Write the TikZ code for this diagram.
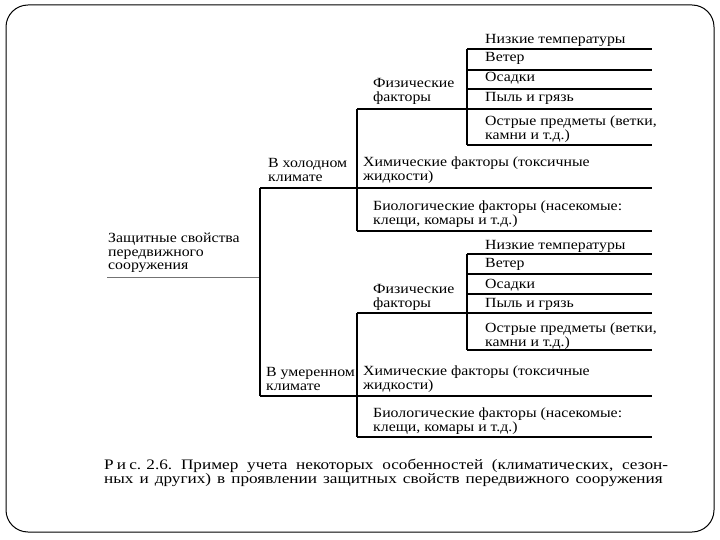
\documentclass[tikz,border=0pt]{standalone}
\usepackage{fontspec}
\usepackage{graphicx}
\setmainfont[FakeStretch=1.13]{Liberation Serif}
\frenchspacing
\newcommand\mylines[1]{\vtop{\baselineskip=14pt\lineskiplimit=-10pt\halign{##\hfil\cr#1\crcr}}}
\begin{document}
\begin{tikzpicture}[x=1pt,y=-1pt,
  txt/.style={anchor=base west,inner sep=0pt,font=\fontsize{14}{14}\selectfont},
  captxt/.style={anchor=base west,inner sep=0pt,font=\fontsize{14.5}{14}\selectfont},
  rule/.style={line width=1.6pt,black},
  thinrule/.style={line width=1pt,black!55},
  frame/.style={line width=1pt,black,rounded corners=22pt}]
\useasboundingbox (0,0) rectangle (720,540);
\draw[frame] (6,5) rectangle (714,532);

% root
\node[txt] (root) at (108,242) {\mylines{Защитные свойства\cr передвижного\cr сооружения}};
\coordinate (rootL) at (107,277);
\coordinate (trunkR) at (260,277);
\coordinate (trunkT) at (260,188);
\coordinate (trunkB) at (260,396);
\draw[thinrule] (rootL) -- (trunkR);
\draw[rule] (trunkT) -- (trunkB);

% ---------- tree 1 ----------
\node[txt] (cold) at (268,168) {\mylines{В холодном\cr климате}};
\coordinate (c1) at (357,188);
\coordinate (e1) at (652,188);
\draw[rule] (trunkT) -- (c1) -- (e1);
\coordinate (v1t) at (357,109);
\coordinate (v1b) at (357,231);
\draw[rule] (v1t) -- (v1b);
\node[txt] (phys1) at (373,88) {\mylines{Физические\cr факторы}};
\coordinate (p1) at (467,109);
\coordinate (p1e) at (652,109);
\draw[rule] (v1t) -- (p1) -- (p1e);
\node[txt] (chem1) at (363,167) {\mylines{Химические факторы (токсичные\cr жидкости)}};
\node[txt] (bio1) at (373,211) {\mylines{Биологические факторы (насекомые:\cr клещи,\ комары и т.д.)}};
\coordinate (b1e) at (652,231);
\draw[rule] (v1b) -- (b1e);
\coordinate (s1t) at (467,49);
\coordinate (s1b) at (467,145);
\draw[rule] (s1t) -- (s1b);
\coordinate (s1te) at (652,49);
\draw[rule] (s1t) -- (s1te);
\coordinate (s1a) at (467,70);   \coordinate (s1ae) at (652,70);
\coordinate (s1c) at (467,89);   \coordinate (s1ce) at (652,89);
\coordinate (s1be) at (652,145);
\draw[rule] (s1a) -- (s1ae);
\draw[rule] (s1c) -- (s1ce);
\draw[rule] (s1b) -- (s1be);
\node[txt] (low1) at (485,44) {Низкие температуры};
\node[txt] (wind1) at (485,62) {Ветер};
\node[txt] (prec1) at (485,82) {Осадки};
\node[txt] (dust1) at (485,102) {Пыль и грязь};
\node[txt] (sharp1) at (485,126) {\mylines{Острые предметы (ветки,\cr камни и т.д.)}};

% ---------- tree 2 ----------
\node[txt] (warm) at (266,376) {\mylines{В умеренном\cr климате}};
\coordinate (c2) at (357,396);
\coordinate (e2) at (652,396);
\draw[rule] (trunkB) -- (c2) -- (e2);
\coordinate (v2t) at (357,313);
\coordinate (v2b) at (357,437);
\draw[rule] (v2t) -- (v2b);
\node[txt] (phys2) at (373,293) {\mylines{Физические\cr факторы}};
\coordinate (p2) at (467,313);
\coordinate (p2e) at (652,313);
\draw[rule] (v2t) -- (p2) -- (p2e);
\node[txt] (chem2) at (363,375) {\mylines{Химические факторы (токсичные\cr жидкости)}};
\node[txt] (bio2) at (373,417) {\mylines{Биологические факторы (насекомые:\cr клещи,\ комары и т.д.)}};
\coordinate (b2e) at (652,437);
\draw[rule] (v2b) -- (b2e);
\coordinate (s2t) at (467,254);
\coordinate (s2b) at (467,350);
\draw[rule] (s2t) -- (s2b);
\coordinate (s2te) at (652,254);
\draw[rule] (s2t) -- (s2te);
\coordinate (s2a) at (467,274);  \coordinate (s2ae) at (652,274);
\coordinate (s2c) at (467,294);  \coordinate (s2ce) at (652,294);
\coordinate (s2be) at (652,350);
\draw[rule] (s2a) -- (s2ae);
\draw[rule] (s2c) -- (s2ce);
\draw[rule] (s2b) -- (s2be);
\node[txt] (low2) at (485,249) {Низкие температуры};
\node[txt] (wind2) at (485,267) {Ветер};
\node[txt] (prec2) at (485,288) {Осадки};
\node[txt] (dust2) at (485,307) {Пыль и грязь};
\node[txt] (sharp2) at (485,332) {\mylines{Острые предметы (ветки,\cr камни и т.д.)}};

% caption
\node[captxt] (cap1) at (104,469) {\scalebox{1.05}[1]{\makebox[537pt][s]{Р\hspace{3pt}и\hspace{3pt}с.\hspace{5pt}2.6. Пример учета некоторых особенностей (климатических, сезон-}}};
\node[captxt] (cap2) at (104,483) {\scalebox{1.05}[1]{\makebox[532pt][s]{ных и других) в проявлении защитных свойств передвижного сооружения}}};
\end{tikzpicture}
\end{document}
